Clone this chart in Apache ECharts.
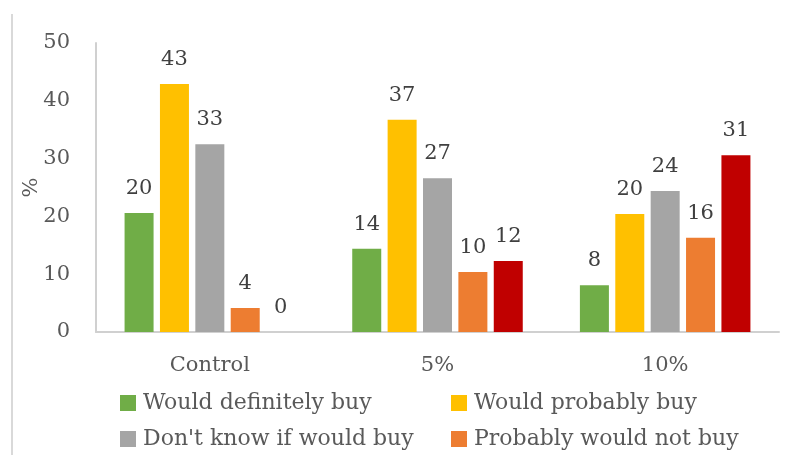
<!DOCTYPE html>
<html><head><meta charset="utf-8">
<script src="https://cdn.jsdelivr.net/npm/echarts@6/dist/echarts.min.js"></script>
<style>html,body{margin:0;padding:0;background:#fff}#c{width:788px;height:455px}</style>
</head><body><div id="c"></div>
<script>
const categories = ['Control', '5%', '10%'];
const seriesNames = ['Would definitely buy', 'Would probably buy', "Don't know if would buy", 'Probably would not buy', 'Would definitely not buy'];
const definitelyBuy = [20.6, 14.4, 8.1];
const probablyBuy = [42.9, 36.7, 20.4];
const dontKnow = [32.5, 26.6, 24.4];
const probablyNot = [4.15, 10.4, 16.3];
const definitelyNot = [0, 12.3, 30.6];
const definitelyBuyLabels = [20, 14, 8];
const probablyBuyLabels = [43, 37, 20];
const dontKnowLabels = [33, 27, 24];
const probablyNotLabels = [4, 10, 16];
const definitelyNotLabels = [0, 12, 31];
const yTicks = [0, 10, 20, 30, 40, 50];

const colors = ['#70AD47', '#FFC000', '#A5A5A5', '#ED7D31', '#C00000'];
const values = [definitelyBuy, probablyBuy, dontKnow, probablyNot, definitelyNot];
const labels = [definitelyBuyLabels, probablyBuyLabels, dontKnowLabels, probablyNotLabels, definitelyNotLabels];
const font = 'DejaVu Serif';

function legendRow(names, top) {
  return names.map((n, k) => ({
    data: [n], orient: 'horizontal', left: k === 0 ? 120 : 451, top: top,
    itemWidth: 16, itemHeight: 16, icon: 'rect', padding: 0,
    textStyle: {fontFamily: font, fontSize: 22, color: '#595959', padding: [0, 0, 0, 2]}
  }));
}

const chart = echarts.init(document.getElementById('c'), null, {renderer: 'canvas'});
chart.setOption({
  animation: false,
  textStyle: {fontFamily: font},
  graphic: [{type: 'line', shape: {x1: 12, y1: 14, x2: 12, y2: 455}, style: {stroke: '#d9d9d9', lineWidth: 2}}],
  grid: {left: 96, right: 9, top: 43, bottom: 123},
  legend: [].concat(legendRow(seriesNames.slice(0, 2), 392), legendRow(seriesNames.slice(2, 4), 428)),
  xAxis: {
    type: 'category', data: categories,
    axisLine: {lineStyle: {color: '#d0d0d0', width: 2}},
    axisTick: {show: false},
    axisLabel: {fontFamily: font, fontSize: 21, color: '#595959', margin: 23}
  },
  yAxis: {
    type: 'value', min: 0, max: 50, interval: 10,
    name: '%', nameLocation: 'middle', nameGap: 54, nameRotate: 90, nameMoveOverlap: false,
    nameTextStyle: {fontFamily: font, fontSize: 21, color: '#595959'},
    axisLine: {show: true, lineStyle: {color: '#d0d0d0', width: 2}},
    axisTick: {show: false},
    splitLine: {show: false},
    axisLabel: {fontFamily: font, fontSize: 21, color: '#595959', margin: 26,
      formatter: v => yTicks.includes(v) ? String(v) : ''}
  },
  series: values.map((vals, i) => ({
    name: seriesNames[i], type: 'bar', barWidth: 29, barGap: '22%',
    itemStyle: {color: colors[i]},
    data: vals.map((v, j) => ({value: v, label: {formatter: String(labels[i][j])}})),
    label: {show: true, position: 'top', distance: 14, fontFamily: font, fontSize: 21, color: '#404040'}
  }))
});
</script></body></html>
